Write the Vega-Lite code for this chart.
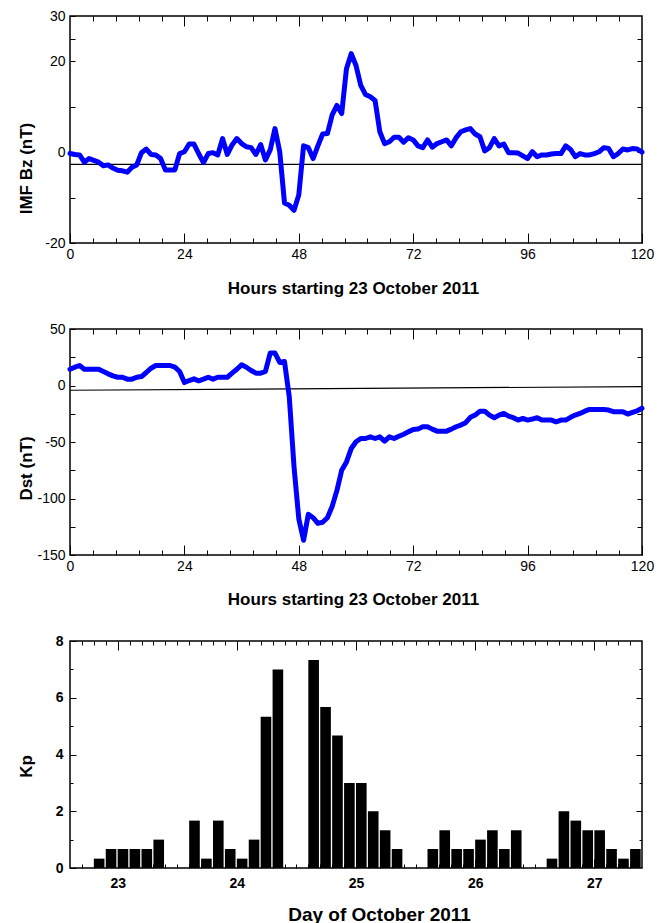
{
  "$schema": "https://vega.github.io/schema/vega-lite/v6.json",
  "padding": {"left": 16, "top": 8, "right": 10, "bottom": 5},
  "spacing": 86,
  "bounds": "flush",
  "config": {
    "view": {"stroke": "black", "strokeWidth": 1.5},
    "axis": {"grid": false, "domain": false, "labelFont": "Liberation Sans", "titleFont": "Liberation Sans", "labelFontSize": 14, "titleFontSize": 17, "titleFontWeight": "bold", "labelColor": "black", "titleColor": "black", "tickColor": "black", "tickWidth": 1, "labelFlush": false, "labelOverlap": false, "minExtent": 0}
  },
  "datasets": {
    "bz": [
      {"hour":0,"value":-0.3},{"hour":1,"value":-0.5},{"hour":2,"value":-0.6},{"hour":3,"value":-2.2},{"hour":4,"value":-1.4},{"hour":5,"value":-1.8},{"hour":6,"value":-2.2},{"hour":7,"value":-3.0},{"hour":8,"value":-2.8},{"hour":9,"value":-3.5},
      {"hour":10,"value":-4.0},{"hour":11,"value":-4.1},{"hour":12,"value":-4.4},{"hour":13,"value":-3.3},{"hour":14,"value":-2.8},{"hour":15,"value":-0.1},{"hour":16,"value":0.7},{"hour":17,"value":-0.5},{"hour":18,"value":-0.6},{"hour":19,"value":-1.4},
      {"hour":20,"value":-3.9},{"hour":21,"value":-3.9},{"hour":22,"value":-3.9},{"hour":23,"value":-0.3},{"hour":24,"value":0.1},{"hour":25,"value":1.8},{"hour":26,"value":1.8},{"hour":27,"value":-0.3},{"hour":28,"value":-2.3},{"hour":29,"value":-0.3},
      {"hour":30,"value":-0.1},{"hour":31,"value":-0.6},{"hour":32,"value":3.0},{"hour":33,"value":-0.5},{"hour":34,"value":1.6},{"hour":35,"value":3.0},{"hour":36,"value":1.9},{"hour":37,"value":1.2},{"hour":38,"value":1.0},{"hour":39,"value":-0.5},
      {"hour":40,"value":1.7},{"hour":41,"value":-1.7},{"hour":42,"value":0.5},{"hour":43,"value":5.2},{"hour":44,"value":0.1},{"hour":45,"value":-11.2},{"hour":46,"value":-11.7},{"hour":47,"value":-12.8},{"hour":48,"value":-9.4},{"hour":49,"value":1.4},
      {"hour":50,"value":1.0},{"hour":51,"value":-1.4},{"hour":52,"value":1.4},{"hour":53,"value":4.0},{"hour":54,"value":4.1},{"hour":55,"value":8.2},{"hour":56,"value":10.3},{"hour":57,"value":8.5},{"hour":58,"value":18.4},{"hour":59,"value":21.7},
      {"hour":60,"value":19.1},{"hour":61,"value":14.7},{"hour":62,"value":12.7},{"hour":63,"value":12.2},{"hour":64,"value":11.4},{"hour":65,"value":4.5},{"hour":66,"value":1.9},{"hour":67,"value":2.3},{"hour":68,"value":3.3},{"hour":69,"value":3.3},
      {"hour":70,"value":2.2},{"hour":71,"value":3.2},{"hour":72,"value":2.7},{"hour":73,"value":1.4},{"hour":74,"value":1.0},{"hour":75,"value":2.7},{"hour":76,"value":1.1},{"hour":77,"value":1.9},{"hour":78,"value":2.3},{"hour":79,"value":2.7},
      {"hour":80,"value":1.4},{"hour":81,"value":3.2},{"hour":82,"value":4.5},{"hour":83,"value":4.9},{"hour":84,"value":5.2},{"hour":85,"value":4.0},{"hour":86,"value":3.4},{"hour":87,"value":0.3},{"hour":88,"value":1.0},{"hour":89,"value":3.0},
      {"hour":90,"value":1.4},{"hour":91,"value":1.8},{"hour":92,"value":-0.1},{"hour":93,"value":-0.1},{"hour":94,"value":-0.2},{"hour":95,"value":-0.8},{"hour":96,"value":-1.4},{"hour":97,"value":0.1},{"hour":98,"value":-1.0},{"hour":99,"value":-0.6},
      {"hour":100,"value":-0.6},{"hour":101,"value":-0.4},{"hour":102,"value":-0.3},{"hour":103,"value":-0.3},{"hour":104,"value":1.4},{"hour":105,"value":0.6},{"hour":106,"value":-1.0},{"hour":107,"value":-0.3},{"hour":108,"value":-0.6},{"hour":109,"value":-0.6},
      {"hour":110,"value":-0.3},{"hour":111,"value":0.1},{"hour":112,"value":1.0},{"hour":113,"value":0.8},{"hour":114,"value":-1.0},{"hour":115,"value":-0.3},{"hour":116,"value":0.7},{"hour":117,"value":0.5},{"hour":118,"value":0.8},{"hour":119,"value":0.7},
      {"hour":120,"value":0.0}
    ],
    "dst": [
      {"hour":0,"value":14.4},{"hour":1,"value":16.2},{"hour":2,"value":17.7},{"hour":3,"value":14.4},{"hour":4,"value":14.4},{"hour":5,"value":14.4},{"hour":6,"value":14.4},{"hour":7,"value":12.4},{"hour":8,"value":10.3},{"hour":9,"value":8.5},
      {"hour":10,"value":7.3},{"hour":11,"value":7.3},{"hour":12,"value":5.6},{"hour":13,"value":5.6},{"hour":14,"value":7.3},{"hour":15,"value":7.9},{"hour":16,"value":11.5},{"hour":17,"value":15.3},{"hour":18,"value":17.7},{"hour":19,"value":17.7},
      {"hour":20,"value":17.7},{"hour":21,"value":17.7},{"hour":22,"value":16.2},{"hour":23,"value":12.4},{"hour":24,"value":2.6},{"hour":25,"value":4.4},{"hour":26,"value":5.9},{"hour":27,"value":4.1},{"hour":28,"value":5.6},{"hour":29,"value":7.3},
      {"hour":30,"value":5.6},{"hour":31,"value":7.3},{"hour":32,"value":7.3},{"hour":33,"value":7.3},{"hour":34,"value":10.9},{"hour":35,"value":14.4},{"hour":36,"value":18.3},{"hour":37,"value":16.2},{"hour":38,"value":13.3},{"hour":39,"value":10.9},
      {"hour":40,"value":10.9},{"hour":41,"value":12.4},{"hour":42,"value":28.7},{"hour":43,"value":28.7},{"hour":44,"value":20.4},{"hour":45,"value":21.2},{"hour":46,"value":-10},{"hour":47,"value":-72},{"hour":48,"value":-118},{"hour":49,"value":-137},
      {"hour":50,"value":-114},{"hour":51,"value":-117},{"hour":52,"value":-122},{"hour":53,"value":-121},{"hour":54,"value":-117},{"hour":55,"value":-107},{"hour":56,"value":-92.8},{"hour":57,"value":-75},{"hour":58,"value":-67.6},{"hour":59,"value":-55.8},
      {"hour":60,"value":-49.8},{"hour":61,"value":-46.9},{"hour":62,"value":-46.9},{"hour":63,"value":-45.4},{"hour":64,"value":-46.9},{"hour":65,"value":-45.4},{"hour":66,"value":-49.3},{"hour":67,"value":-45.4},{"hour":68,"value":-46.9},{"hour":69,"value":-44.9},
      {"hour":70,"value":-43.1},{"hour":71,"value":-41},{"hour":72,"value":-38.9},{"hour":73,"value":-38.6},{"hour":74,"value":-36.5},{"hour":75,"value":-36.5},{"hour":76,"value":-38.6},{"hour":77,"value":-40.4},{"hour":78,"value":-40.4},{"hour":79,"value":-40.4},
      {"hour":80,"value":-38.6},{"hour":81,"value":-36.5},{"hour":82,"value":-35},{"hour":83,"value":-32.9},{"hour":84,"value":-28.2},{"hour":85,"value":-26.2},{"hour":86,"value":-22.7},{"hour":87,"value":-22.7},{"hour":88,"value":-26.2},{"hour":89,"value":-28.5},
      {"hour":90,"value":-26.2},{"hour":91,"value":-24.7},{"hour":92,"value":-27.1},{"hour":93,"value":-28.5},{"hour":94,"value":-30.6},{"hour":95,"value":-29.1},{"hour":96,"value":-30.6},{"hour":97,"value":-29.7},{"hour":98,"value":-28.5},{"hour":99,"value":-30.6},
      {"hour":100,"value":-30.6},{"hour":101,"value":-30.6},{"hour":102,"value":-32.1},{"hour":103,"value":-30.6},{"hour":104,"value":-30.6},{"hour":105,"value":-28.2},{"hour":106,"value":-26.2},{"hour":107,"value":-24.7},{"hour":108,"value":-22.7},{"hour":109,"value":-21.2},
      {"hour":110,"value":-21.2},{"hour":111,"value":-21.2},{"hour":112,"value":-21.2},{"hour":113,"value":-21.7},{"hour":114,"value":-23.2},{"hour":115,"value":-23.2},{"hour":116,"value":-23.2},{"hour":117,"value":-25.3},{"hour":118,"value":-23.8},{"hour":119,"value":-22.4},
      {"hour":120,"value":-20.2}
    ],
    "kp": [
      {"day":23,"interval":0,"kp":0},{"day":23,"interval":1,"kp":0},{"day":23,"interval":2,"kp":0.33},{"day":23,"interval":3,"kp":0.67},{"day":23,"interval":4,"kp":0.67},{"day":23,"interval":5,"kp":0.67},{"day":23,"interval":6,"kp":0.67},{"day":23,"interval":7,"kp":1.0},
      {"day":24,"interval":0,"kp":1.67},{"day":24,"interval":1,"kp":0.33},{"day":24,"interval":2,"kp":1.67},{"day":24,"interval":3,"kp":0.67},{"day":24,"interval":4,"kp":0.33},{"day":24,"interval":5,"kp":1.0},{"day":24,"interval":6,"kp":5.33},{"day":24,"interval":7,"kp":7.0},
      {"day":25,"interval":0,"kp":7.33},{"day":25,"interval":1,"kp":5.67},{"day":25,"interval":2,"kp":4.67},{"day":25,"interval":3,"kp":3.0},{"day":25,"interval":4,"kp":3.0},{"day":25,"interval":5,"kp":2.0},{"day":25,"interval":6,"kp":1.33},{"day":25,"interval":7,"kp":0.67},
      {"day":26,"interval":0,"kp":0.67},{"day":26,"interval":1,"kp":1.33},{"day":26,"interval":2,"kp":0.67},{"day":26,"interval":3,"kp":0.67},{"day":26,"interval":4,"kp":1.0},{"day":26,"interval":5,"kp":1.33},{"day":26,"interval":6,"kp":0.67},{"day":26,"interval":7,"kp":1.33},
      {"day":27,"interval":0,"kp":0.33},{"day":27,"interval":1,"kp":2.0},{"day":27,"interval":2,"kp":1.67},{"day":27,"interval":3,"kp":1.33},{"day":27,"interval":4,"kp":1.33},{"day":27,"interval":5,"kp":0.67},{"day":27,"interval":6,"kp":0.33},{"day":27,"interval":7,"kp":0.67}
    ]
  },
  "vconcat": [
    {
      "width": 572, "height": 227,
      "layer": [
        {
          "data": {"values": [{"hour":0,"value":-2.7},{"hour":120,"value":-2.7}]},
          "mark": {"type": "line", "color": "black", "strokeWidth": 1.2},
          "encoding": {
            "x": {"field": "hour", "type": "quantitative", "scale": {"domain": [0,120], "nice": false, "zero": false},
              "axis": {"orient": "bottom", "values": [0,24,48,72,96,120], "tickSize": -10, "labelPadding": 14, "title": "Hours starting 23 October 2011", "titleX": 283, "titleY": 45, "titleBaseline": "middle"}},
            "y": {"field": "value", "type": "quantitative", "scale": {"domain": [-20,30], "nice": false, "zero": false},
              "axis": {"orient": "left", "values": [-20,-10,0,10,20,25,30], "labelExpr": "indexof([-20,0,20,30], datum.value) >= 0 ? '' + datum.value : ''", "tickSize": -5, "labelPadding": 10, "title": "IMF Bz (nT)", "titleX": -44, "titleY": 152, "titleBaseline": "middle"}}
          }
        },
        {
          "data": {"name": "bz"},
          "mark": {"type": "line", "color": "#0000ff", "strokeWidth": 5, "strokeJoin": "round", "strokeCap": "round"},
          "encoding": {
            "x": {"field": "hour", "type": "quantitative", "axis": {"orient": "top", "values": [24,48,72,96], "tickSize": -10, "labels": false, "title": null}},
            "y": {"field": "value", "type": "quantitative", "axis": {"orient": "right", "values": [-10,0,10,20,25], "tickSize": -5, "labels": false, "title": null}}
          }
        },
        {
          "data": {"name": "bz"},
          "mark": {"type": "line", "opacity": 0},
          "encoding": {
            "x": {"field": "hour", "type": "quantitative", "axis": {"orient": "bottom", "values": [4.8,9.6,14.4,19.2,28.8,33.6,38.4,43.2,52.8,57.6,62.4,67.2,76.8,81.6,86.4,91.2,100.8,105.6,110.4,115.2], "tickSize": -5, "labels": false, "title": null}},
            "y": {"field": "value", "type": "quantitative", "axis": null}
          }
        },
        {
          "data": {"name": "bz"},
          "mark": {"type": "line", "opacity": 0},
          "encoding": {
            "x": {"field": "hour", "type": "quantitative", "axis": {"orient": "top", "values": [4.8,9.6,14.4,19.2,28.8,33.6,38.4,43.2,52.8,57.6,62.4,67.2,76.8,81.6,86.4,91.2,100.8,105.6,110.4,115.2], "tickSize": -5, "labels": false, "title": null}},
            "y": {"field": "value", "type": "quantitative", "axis": null}
          }
        }
      ],
      "resolve": {"axis": {"x": "independent", "y": "independent"}}
    },
    {
      "width": 572, "height": 226,
      "layer": [
        {
          "data": {"values": [{"hour":0,"value":-4.2},{"hour":120,"value":-1.0}]},
          "mark": {"type": "line", "color": "black", "strokeWidth": 1.2},
          "encoding": {
            "x": {"field": "hour", "type": "quantitative", "scale": {"domain": [0,120], "nice": false, "zero": false},
              "axis": {"orient": "bottom", "values": [0,24,48,72,96,120], "tickSize": -10, "labelPadding": 14, "title": "Hours starting 23 October 2011", "titleX": 283, "titleY": 44, "titleBaseline": "middle"}},
            "y": {"field": "value", "type": "quantitative", "scale": {"domain": [-150,50], "nice": false, "zero": false},
              "axis": {"orient": "left", "values": [-150,-125,-100,-75,-50,-25,0,25,50], "labelExpr": "datum.value % 50 == 0 ? '' + datum.value : ''", "tickSize": -5, "labelPadding": 10, "title": "Dst (nT)", "titleX": -44, "titleY": 139, "titleBaseline": "middle"}}
          }
        },
        {
          "data": {"name": "dst"},
          "mark": {"type": "line", "color": "#0000ff", "strokeWidth": 5, "strokeJoin": "round", "strokeCap": "round"},
          "encoding": {
            "x": {"field": "hour", "type": "quantitative", "axis": {"orient": "top", "values": [24,48,72,96], "tickSize": -10, "labels": false, "title": null}},
            "y": {"field": "value", "type": "quantitative", "axis": {"orient": "right", "values": [-125,-100,-75,-50,-25,0,25], "tickSize": -5, "labels": false, "title": null}}
          }
        },
        {
          "data": {"name": "dst"},
          "mark": {"type": "line", "opacity": 0},
          "encoding": {
            "x": {"field": "hour", "type": "quantitative", "axis": {"orient": "bottom", "values": [4.8,9.6,14.4,19.2,28.8,33.6,38.4,43.2,52.8,57.6,62.4,67.2,76.8,81.6,86.4,91.2,100.8,105.6,110.4,115.2], "tickSize": -5, "labels": false, "title": null}},
            "y": {"field": "value", "type": "quantitative", "axis": null}
          }
        },
        {
          "data": {"name": "dst"},
          "mark": {"type": "line", "opacity": 0},
          "encoding": {
            "x": {"field": "hour", "type": "quantitative", "axis": {"orient": "top", "values": [4.8,9.6,14.4,19.2,28.8,33.6,38.4,43.2,52.8,57.6,62.4,67.2,76.8,81.6,86.4,91.2,100.8,105.6,110.4,115.2], "tickSize": -5, "labels": false, "title": null}},
            "y": {"field": "value", "type": "quantitative", "axis": null}
          }
        }
      ],
      "resolve": {"axis": {"x": "independent", "y": "independent"}}
    },
    {
      "width": 572, "height": 227,
      "data": {"name": "kp"},
      "transform": [
        {"calculate": "(datum.day - 23) * 10 + datum.interval", "as": "slot"},
        {"calculate": "datum.slot + 1", "as": "slot_end"}
      ],
      "layer": [
        {
          "mark": {"type": "bar", "color": "black", "x2Offset": -1.3},
          "encoding": {
            "x": {"field": "slot", "type": "quantitative", "scale": {"domain": [0,48], "nice": false, "zero": false},
              "axis": {"orient": "bottom", "values": [4,14,24,34,44], "labelExpr": "format(23 + (datum.value - 4) / 10, 'd')", "labelFontWeight": "bold", "tickSize": -9, "labelPadding": 17, "title": "Day of October 2011", "titleFontSize": 19, "titleX": 309, "titleY": 46, "titleBaseline": "middle"}},
            "x2": {"field": "slot_end"},
            "y": {"field": "kp", "type": "quantitative", "scale": {"domain": [0,8], "nice": false},
              "axis": {"orient": "left", "values": [0,2,4,6,8], "labelFontWeight": "bold", "tickSize": -6, "labelPadding": 13, "title": "Kp", "titleX": -44, "titleY": 125, "titleBaseline": "middle"}},
            "y2": {"datum": 0}
          }
        },
        {
          "mark": {"type": "point", "opacity": 0},
          "encoding": {
            "x": {"field": "slot", "type": "quantitative", "axis": {"orient": "top", "values": [4,14,24,34,44], "tickSize": -9, "labels": false, "title": null}},
            "y": {"field": "kp", "type": "quantitative", "axis": {"orient": "right", "values": [2,4,6], "tickSize": -6, "labels": false, "title": null}}
          }
        },
        {
          "mark": {"type": "point", "opacity": 0},
          "encoding": {
            "x": {"field": "slot", "type": "quantitative", "axis": {"orient": "bottom", "values": [1,2,3,5,6,7,8,9,10,11,12,13,15,16,17,18,19,20,21,22,23,25,26,27,28,29,30,31,32,33,35,36,37,38,39,40,41,42,43,45,46,47], "tickSize": -4, "labels": false, "title": null}},
            "y": {"field": "kp", "type": "quantitative", "axis": {"orient": "left", "values": [1,3,5,7], "tickSize": -3, "labels": false, "title": null}}
          }
        },
        {
          "mark": {"type": "point", "opacity": 0},
          "encoding": {
            "x": {"field": "slot", "type": "quantitative", "axis": {"orient": "top", "values": [1,2,3,5,6,7,8,9,10,11,12,13,15,16,17,18,19,20,21,22,23,25,26,27,28,29,30,31,32,33,35,36,37,38,39,40,41,42,43,45,46,47], "tickSize": -4, "labels": false, "title": null}},
            "y": {"field": "kp", "type": "quantitative", "axis": {"orient": "right", "values": [1,3,5,7], "tickSize": -3, "labels": false, "title": null}}
          }
        }
      ],
      "resolve": {"axis": {"x": "independent", "y": "independent"}}
    }
  ]
}
